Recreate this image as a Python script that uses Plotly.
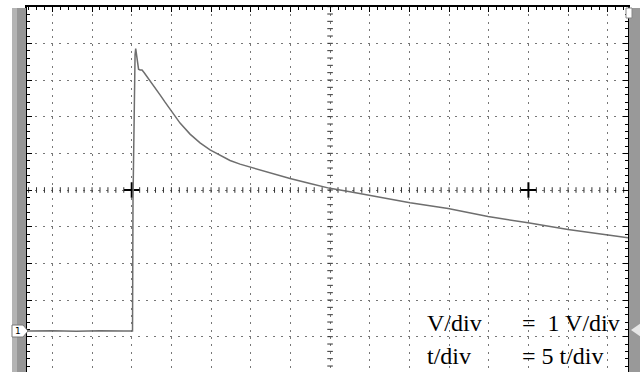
import numpy as np
import plotly.graph_objects as go

# ---- data (time in t-units, 5 t/div; voltage in V, 1 V/div) ----
t_vals = [-13.2, -10.0, -7.0, -4.0, -1.0, 0.10,
          0.16, 0.29, 0.42, 0.50, 0.60, 0.73, 0.86, 1.05, 1.30, 1.55, 1.93,
          2.31, 2.94, 3.57, 4.20, 4.83, 5.46, 6.09, 7.35, 8.61, 9.87, 11.13,
          12.39, 13.65, 14.91, 17.43, 19.95, 22.47, 24.99, 27.51, 30.03, 32.55,
          35.08, 39.87, 44.91, 49.95, 54.99, 60.03, 62.55]
v_vals = [0.00, 0.01, -0.01, 0.01, 0.00, 0.00,
          3.57, 6.30, 7.53, 7.70, 7.53, 7.28, 7.14, 7.12, 7.12, 7.05, 6.94,
          6.82, 6.63, 6.44, 6.24, 6.05, 5.85, 5.67, 5.37, 5.13, 4.94, 4.79,
          4.65, 4.55, 4.47, 4.31, 4.16, 4.02, 3.89, 3.80, 3.70, 3.60,
          3.50, 3.34, 3.12, 2.95, 2.77, 2.62, 2.54]

x_range = [-13.2, 62.55]
y_range = [-1.118, 8.836]
t_per_div = 5
v_per_div = 1
grid_y0 = 3.845          # screen centre line level (V)
grid_x_center = 25       # screen centre (t)
trigger_marks_t = [0, 50]
label_rows = [("V/div", "=\u00a0 1 V/div"), ("t/div", "= 5 t/div")]

fig = go.Figure()

# centre-line minor ticks
cx = np.arange(-13, 63, 1)
fig.add_trace(go.Scatter(x=cx, y=[grid_y0] * len(cx), mode="markers",
                         marker=dict(symbol="line-ns-open", size=4, color="#333",
                                     line=dict(color="#333", width=1)),
                         hoverinfo="skip", showlegend=False))
cy = grid_y0 + 0.2 * np.arange(-25, 26)
fig.add_trace(go.Scatter(x=[grid_x_center] * len(cy), y=cy, mode="markers",
                         marker=dict(symbol="line-ew-open", size=4, color="#333",
                                     line=dict(color="#333", width=1)),
                         hoverinfo="skip", showlegend=False))
# trigger crosses
fig.add_trace(go.Scatter(x=trigger_marks_t, y=[grid_y0] * len(trigger_marks_t),
                         mode="markers",
                         marker=dict(symbol="cross-thin-open", size=11, color="black",
                                     line=dict(color="black", width=2)),
                         hoverinfo="skip", showlegend=False))
# signal
fig.add_trace(go.Scatter(x=t_vals, y=v_vals, mode="lines",
                         line=dict(color="#6e6e6e", width=1.5),
                         hoverinfo="skip", showlegend=False))

def px_x(p):
    return (p - 27) / 601.0

def px_y(p):
    return (372 - p) / 365.0

shapes = [
    # gray side bars
    dict(type="rect", xref="paper", yref="paper", x0=px_x(12), x1=px_x(17),
         y0=0, y1=px_y(8), fillcolor="#b4b4b4", line=dict(width=0), layer="above"),
    dict(type="rect", xref="paper", yref="paper", x0=px_x(17), x1=px_x(26),
         y0=0, y1=px_y(8), fillcolor="#979797", line=dict(width=0), layer="above"),
    dict(type="rect", xref="paper", yref="paper", x0=px_x(629), x1=px_x(641),
         y0=0, y1=px_y(8), fillcolor="#999999", line=dict(width=0), layer="above"),
    # top-right tab
    dict(type="rect", xref="paper", yref="paper", x0=px_x(626), x1=px_x(632),
         y0=px_y(18), y1=px_y(8), fillcolor="white",
         line=dict(color="#888", width=1), layer="above"),
    # right trigger-level arrow
    dict(type="path", xref="paper", yref="paper",
         path=f"M {px_x(641)},{px_y(323)} L {px_x(631)},{px_y(330)} L {px_x(641)},{px_y(337)} Z",
         fillcolor="#e6e6e6", line=dict(width=0), layer="above"),
    # channel 1 ground marker
    dict(type="path", xref="paper", yref="paper",
         path=(f"M {px_x(12)},{px_y(325)} L {px_x(23)},{px_y(325)} L {px_x(28)},{px_y(331)} "
               f"L {px_x(23)},{px_y(337)} L {px_x(12)},{px_y(337)} Z"),
         fillcolor="white", line=dict(color="#777", width=1), layer="above"),
]

annotations = [
    dict(text="1", xref="paper", yref="paper", x=px_x(18), y=px_y(331),
         xanchor="center", yanchor="middle", showarrow=False,
         font=dict(family="DejaVu Sans", size=9, color="black")),
]
row_y = [323, 355.5]
for (lab, val), yy in zip(label_rows, row_y):
    annotations.append(dict(text=lab, xref="paper", yref="paper", x=px_x(425), y=px_y(yy),
                            xanchor="left", yanchor="middle", showarrow=False,
                            font=dict(family="Liberation Serif", size=24, color="black")))
    annotations.append(dict(text=val, xref="paper", yref="paper", x=px_x(520), y=px_y(yy),
                            xanchor="left", yanchor="middle", showarrow=False,
                            font=dict(family="Liberation Serif", size=24, color="black")))

fig.update_layout(
    width=640, height=372,
    margin=dict(l=27, r=12, t=7, b=0, autoexpand=False),
    paper_bgcolor="white", plot_bgcolor="white",
    hovermode=False,
    shapes=shapes, annotations=annotations,
    xaxis=dict(range=x_range, side="top", showline=True, linecolor="black", linewidth=2,
               ticks="inside", ticklen=5, tickcolor="black", tickwidth=1,
               tick0=0, dtick=t_per_div, showticklabels=False,
               showgrid=True, gridcolor="#777", gridwidth=1, griddash="2px,5.33px",
               zeroline=False, fixedrange=True,
               minor=dict(ticks="inside", ticklen=3, dtick=1, tick0=0,
                          tickcolor="black", showgrid=False)),
    yaxis=dict(range=y_range, showline=True, linecolor="black", linewidth=2,
               mirror="allticks",
               ticks="inside", ticklen=5, tickcolor="black", tickwidth=1,
               tick0=grid_y0 - 4, dtick=v_per_div, showticklabels=False,
               showgrid=True, gridcolor="#777", gridwidth=1, griddash="2px,5.93px",
               zeroline=False, fixedrange=True,
               minor=dict(ticks="inside", ticklen=3, dtick=0.2, tick0=grid_y0 - 4,
                          tickcolor="black", showgrid=False)),
)

fig.write_html("out.html", config={"displayModeBar": False},
               post_script="document.body.style.margin='0';document.body.style.overflow='hidden';")
